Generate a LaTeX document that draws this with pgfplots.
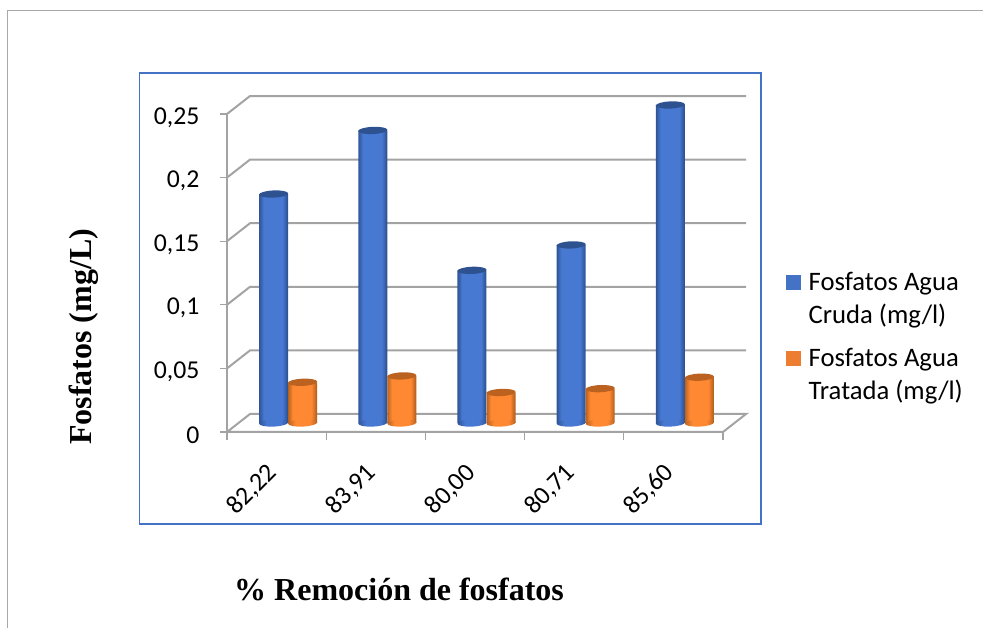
\documentclass[border=0pt]{standalone}
\usepackage{fontspec}
\setmainfont{Carlito}
\newfontfamily\titlefont{Liberation Serif}
\usepackage{pgfplots}
\usepackage{pgfplotstable}
\pgfplotsset{compat=1.18}

\definecolor{wallgray}{HTML}{A3A3A3}
\definecolor{framegray}{HTML}{A8A8A8}
\definecolor{boxblue}{HTML}{4472C4}
\definecolor{crudaedge}{HTML}{2F5496}
\definecolor{crudamid}{HTML}{4778D2}
\definecolor{crudacap}{HTML}{2E5290}
\definecolor{tratedge}{HTML}{B8621F}
\definecolor{tratmid}{HTML}{FF8932}
\definecolor{tratcap}{HTML}{BC6220}
\definecolor{legcruda}{HTML}{4472C4}
\definecolor{legtrat}{HTML}{ED7D31}

% Shading for the rounded base of a cylinder
\pgfdeclarehorizontalshading{cylblue}{100bp}{color(0bp)=(crudaedge); color(25bp)=(crudaedge); color(38bp)=(crudamid); color(62bp)=(crudamid); color(75bp)=(crudaedge); color(100bp)=(crudaedge)}
\pgfdeclarehorizontalshading{cylorange}{100bp}{color(0bp)=(tratedge); color(25bp)=(tratedge); color(38bp)=(tratmid); color(62bp)=(tratmid); color(75bp)=(tratedge); color(100bp)=(tratedge)}

% Cylinder caps and rounded bases
\pgfdeclareplotmark{captop}{\pgfpathellipse{\pgfpointorigin}{\pgfpoint{10.9pt}{0.5pt}}{\pgfpoint{-0.2pt}{2.7pt}}\pgfusepathqfill}
\pgfdeclareplotmark{basecruda}{\pgfpathellipse{\pgfpointorigin}{\pgfpoint{10.9pt}{0.5pt}}{\pgfpoint{-0.2pt}{2.7pt}}\pgfshadepath{cylblue}{0}\pgfusepath{discard}}
\pgfdeclareplotmark{basetratada}{\pgfpathellipse{\pgfpointorigin}{\pgfpoint{10.9pt}{0.5pt}}{\pgfpoint{-0.2pt}{2.7pt}}\pgfshadepath{cylorange}{0}\pgfusepath{discard}}

\pgfplotstableread{
xb      xo      cruda  tratada
0.3538  0.6462  0.18   0.032
1.3538  1.6462  0.23   0.037
2.3538  2.6462  0.12   0.024
3.3538  3.6462  0.14   0.027
4.3538  4.6462  0.25   0.036
}\fosfatos

\pgfplotstableread{
xb      xo      base
0.3538  0.6462  0
1.3538  1.6462  0
2.3538  2.6462  0
3.3538  3.6462  0
4.3538  4.6462  0
}\bases

% One cylinder body: nested bars from the dark rim to the bright core
\newcommand{\cylinderbody}[4]{%
  \addplot[only marks,mark=base#2,forget plot] table[x=#1,y=base]{\bases};
  \addplot[ybar,bar shift=0pt,bar width=21.75pt,draw=none,fill=#3,forget plot] table[x=#1,y=#2]{\fosfatos};
  \addplot[ybar,bar shift=0pt,bar width=20.4pt,draw=none,fill=#4!20!#3,forget plot] table[x=#1,y=#2]{\fosfatos};
  \addplot[ybar,bar shift=0pt,bar width=19pt,draw=none,fill=#4!40!#3,forget plot] table[x=#1,y=#2]{\fosfatos};
  \addplot[ybar,bar shift=0pt,bar width=17.6pt,draw=none,fill=#4!60!#3,forget plot] table[x=#1,y=#2]{\fosfatos};
  \addplot[ybar,bar shift=0pt,bar width=16.2pt,draw=none,fill=#4!80!#3,forget plot] table[x=#1,y=#2]{\fosfatos};
  \addplot[ybar,bar shift=0pt,bar width=14.8pt,draw=none,fill=#4,forget plot] table[x=#1,y=#2]{\fosfatos};
}

\pgfplotsset{
  sizing/.style={scale only axis, width=372pt, height=238.5pt,
    xmin=0, xmax=5, ymin=0, ymax=0.25, clip=false, anchor=south west},
  legend square/.style={legend image code/.code={
      \fill[draw=none,##1] (0pt,6.25pt) rectangle (11.25pt,17.5pt);}},
}

\begin{document}
\begin{tikzpicture}[x=0.75pt,y=0.75pt]
\useasboundingbox (0,0) rectangle (983,628);
% page frame and chart box
\draw[framegray,line width=0.6pt] (7,0) -- (7,618) -- (983,618);
\draw[boxblue,line width=1.1pt] (139.5,555) rectangle (761,104);

% walls, floor, ticks and legend
\begin{axis}[sizing, at={(170.25pt,147pt)},
  axis lines=none,
  xtick=\empty, ytick=\empty,
  legend style={at={(1.119,0.30)},anchor=west,draw=none,fill=none,
    font=\fontsize{20}{24.75}\selectfont,
    nodes={align=left,inner sep=0pt},
    row sep=17.25pt, column sep=5.5pt},
  legend cell align=left,
]
% back wall gridlines with their slanted return along the side wall
\pgfplotsinvokeforeach{0.05,0.10,0.15,0.20,0.25}{
  \pgfmathsetmacro{\rear}{#1+0.01415}
  \addplot[wallgray,line width=1.5pt,forget plot] coordinates {(0,#1) (0.232,\rear) (5.232,\rear)};
}
% floor outline
\addplot[wallgray,line width=1.5pt,forget plot] coordinates {(0,0) (0.232,0.01415) (5.232,0.01415) (5,0) (0,0)};
% side wall front edge
\addplot[wallgray,line width=1.5pt,forget plot] coordinates {(0,0) (0,0.25)};
% y ticks
\pgfplotsinvokeforeach{0,0.05,0.10,0.15,0.20,0.25}{
  \addplot[wallgray,line width=1pt,forget plot] coordinates {(-0.07,#1) (0,#1)};
}
% x ticks
\pgfplotsinvokeforeach{0,1,2,3,4,5}{
  \addplot[wallgray,line width=1pt,forget plot] coordinates {(#1,0) (#1,-0.0065)};
}
\addlegendimage{legend square,fill=legcruda}
\addlegendentry{Fosfatos Agua\\Cruda (mg/l)}
\addlegendimage{legend square,fill=legtrat}
\addlegendentry{Fosfatos Agua\\Tratada (mg/l)}
\end{axis}

% tick labels and axis titles on the front plane
\begin{axis}[sizing, at={(170.25pt,147pt)},
  axis x line=bottom, axis y line=left,
  axis line style={draw=none},
  tick style={draw=none},
  xtick={0.5,1.5,2.5,3.5,4.5},
  xticklabels={{82,22},{83,91},{80,00},{80,71},{85,60}},
  ytick={0,0.05,0.10,0.15,0.20,0.25},
  yticklabels={0,{0,05},{0,1},{0,15},{0,2},{0,25}},
  tick label style={font=\fontsize{19.3}{22}\selectfont},
  xticklabel style={rotate=45,anchor=north east,yshift=-4.75pt,xshift=-16.5pt},
  yticklabel style={xshift=-15pt,yshift=-2.5pt},
  xlabel={\titlefont\bfseries\fontsize{24}{28}\selectfont \% Remoción de fosfatos},
  ylabel={\titlefont\bfseries\fontsize{24}{28}\selectfont Fosfatos (mg/L)},
  xlabel style={at={(0.347,-0.494)},anchor=center},
  ylabel style={at={(-0.288,0.299)},anchor=center},
]
\addplot[draw=none,forget plot] coordinates {(0,0)};
\end{axis}

% cylinders stand halfway down the depth of the floor
\begin{axis}[sizing, at={(178.875pt,153.75pt)}, axis lines=none, xtick=\empty, ytick=\empty]
\cylinderbody{xb}{cruda}{crudaedge}{crudamid}
\addplot[only marks,color=crudacap,mark=captop,mark options={fill=crudacap,draw=none}] table[x=xb,y=cruda]{\fosfatos};
\cylinderbody{xo}{tratada}{tratedge}{tratmid}
\addplot[only marks,color=tratcap,mark=captop,mark options={fill=tratcap,draw=none}] table[x=xo,y=tratada]{\fosfatos};
\end{axis}
\end{tikzpicture}
\end{document}
